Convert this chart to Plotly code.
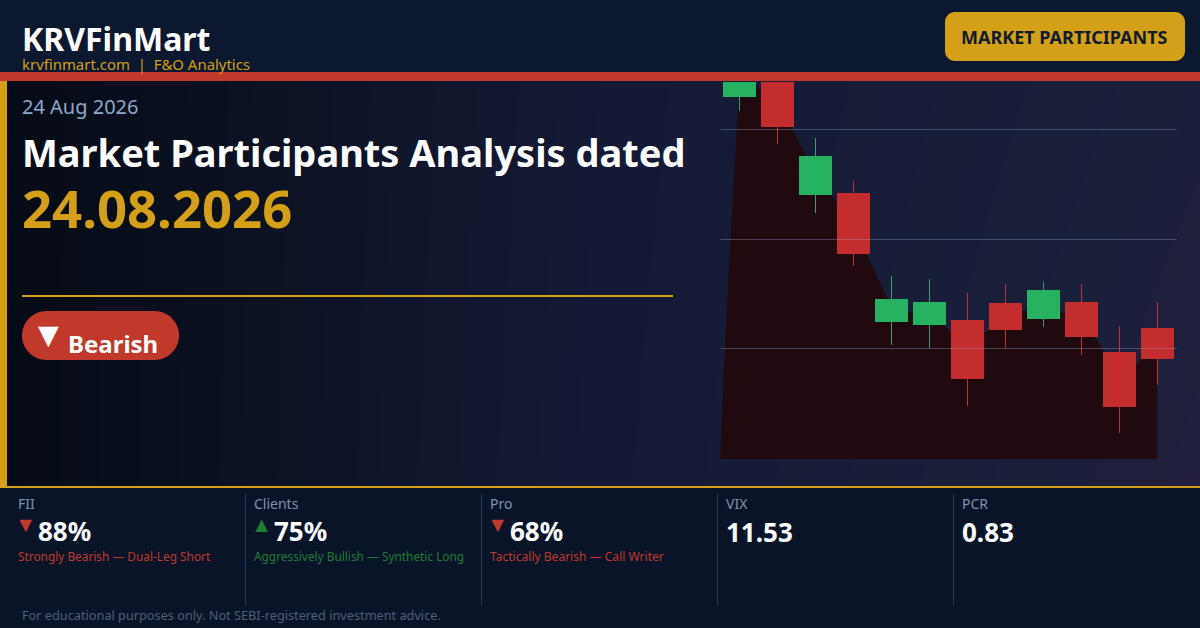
import plotly.graph_objects as go

W, H = 1200, 628

# Candles (no axis labels in the reference, values on a relative scale)
SESSIONS = list(range(12))
OPEN = [329.1, 342.7, 240.0, 241.8, 124.5, 121.8, 126.4, 141.8, 127.3, 142.7, 97.3, 119.1]
HIGH = [360.0, 355.0, 291.8, 252.7, 166.4, 163.6, 150.9, 159.1, 160.9, 159.1, 120.9, 142.7]
LOW = [316.4, 286.4, 223.6, 175.5, 103.6, 100.9, 48.2, 100.9, 120.0, 94.5, 23.6, 67.3]
CLOSE = [350.0, 301.8, 275.5, 186.4, 145.5, 142.7, 72.7, 117.3, 153.6, 110.9, 47.3, 90.9]
GRID_LEVELS = [299.5, 199.5, 100.45]

# Shaded area behind the candles, outline
AREA_X = [720, 720.4, 724, 728, 732, 737, 739, 743, 750, 756, 761, 775, 792, 805, 819, 833, 850, 868, 882, 887,
          898, 910, 930, 943, 950, 967, 984, 989, 1005, 1022, 1040, 1060, 1075, 1097, 1102, 1118, 1136, 1142, 1157.5]
AREA_Y = [0, 10, 83.6, 156.4, 226.4, 305.5, 329.1, 344.5, 348.2, 340, 333.6, 319.1, 300, 278.2, 258.2, 238.2, 211.8,
          183.6, 156.4, 146.4, 139.1, 133.6, 128.2, 123.6, 115.5, 108.2, 114.5, 117.3, 128.2, 134.5, 137.3, 134.5,
          126.4, 108.2, 100, 88.2, 85.5, 90.9, 103.6]

# Background wash
BG_X = [0, 600, 1200]
BG_Y = [0, 628]
BG_Z = [[0.0, 0.45, 0.82], [0.0, 0.48, 1.0]]

STATS = [
    ("FII", "▼", "88%", "Strongly Bearish — Dual-Leg Short", "#c0392b", 11.85),
    ("Clients", "▲", "75%", "Aggressively Bullish — Synthetic Long", "#1e7e34", 11.85),
    ("Pro", "▼", "68%", "Tactically Bearish — Call Writer", "#c0392b", 12.05),
    ("VIX", "", "11.53", "", "", 12),
    ("PCR", "", "0.83", "", "", 12),
]
STAT_X = [18, 254, 490, 726, 962]
SEP_X = [245, 481, 717, 953]

FONT = "Noto Sans"
GOLD = "#d4a017"
RED = "#c0392b"
GREEN_BODY = "#26b260"
RED_BODY = "#c32d2d"

fig = go.Figure()

fig.add_trace(go.Heatmap(
    x=BG_X, y=BG_Y, z=BG_Z, zsmooth="best", showscale=False, hoverinfo="skip",
    zmin=0, zmax=1,
    colorscale=[[0, "#060b16"], [0.47, "#141a35"], [0.82, "#1a1f3a"], [1, "#231f3e"]],
    xaxis="x", yaxis="y",
))
fig.add_trace(go.Scatter(
    x=AREA_X, y=AREA_Y, mode="lines", line=dict(width=0),
    fill="tozeroy", fillcolor="#200a10", hoverinfo="skip", showlegend=False,
    xaxis="x2", yaxis="y2",
))
# Wicks: the open/close pair is collapsed to the middle of the body, where the bodies hide it
MID = [(o + c) / 2 for o, c in zip(OPEN, CLOSE)]
STEP = [0.01 if c > o else -0.01 for o, c in zip(OPEN, CLOSE)]
fig.add_trace(go.Candlestick(
    x=SESSIONS, open=MID, close=[m + s for m, s in zip(MID, STEP)], high=HIGH, low=LOW, whiskerwidth=0,
    increasing=dict(line=dict(color="#3a9f6a", width=1), fillcolor=GREEN_BODY),
    decreasing=dict(line=dict(color="#b8333a", width=1), fillcolor=RED_BODY),
    showlegend=False, xaxis="x3", yaxis="y3",
))
# Bodies on top, with no outline
fig.add_trace(go.Candlestick(
    x=SESSIONS, open=OPEN, close=CLOSE,
    high=[max(o, c) for o, c in zip(OPEN, CLOSE)], low=[min(o, c) for o, c in zip(OPEN, CLOSE)],
    whiskerwidth=0,
    increasing=dict(line=dict(color=GREEN_BODY, width=0), fillcolor=GREEN_BODY),
    decreasing=dict(line=dict(color=RED_BODY, width=0), fillcolor=RED_BODY),
    showlegend=False, xaxis="x3", yaxis="y3",
))


def rr(x0, y0, x1, y1, r):
    fy = lambda v: 1 - v / H
    fx = lambda v: v / W
    k = r * 0.4477
    p = (f"M {fx(x0 + r)} {fy(y0)} L {fx(x1 - r)} {fy(y0)} "
         f"C {fx(x1 - k)} {fy(y0)} {fx(x1)} {fy(y0 + k)} {fx(x1)} {fy(y0 + r)} L {fx(x1)} {fy(y1 - r)} "
         f"C {fx(x1)} {fy(y1 - k)} {fx(x1 - k)} {fy(y1)} {fx(x1 - r)} {fy(y1)} L {fx(x0 + r)} {fy(y1)} "
         f"C {fx(x0 + k)} {fy(y1)} {fx(x0)} {fy(y1 - k)} {fx(x0)} {fy(y1 - r)} L {fx(x0)} {fy(y0 + r)} "
         f"C {fx(x0)} {fy(y0 + k)} {fx(x0 + k)} {fy(y0)} {fx(x0 + r)} {fy(y0)} Z")
    return dict(type="path", xref="paper", yref="paper", path=p, layer="above", line=dict(width=0))


def box(x0, y0, x1, y1, color):
    return dict(type="rect", xref="paper", yref="paper", x0=x0 / W, x1=x1 / W, y0=1 - y1 / H, y1=1 - y0 / H,
                fillcolor=color, line=dict(width=0), layer="above")


shapes = [dict(type="line", xref="x3 domain", yref="y3", x0=0, x1=1, y0=v, y1=v,
               line=dict(color="rgba(160,170,210,0.35)", width=1), layer="above") for v in GRID_LEVELS]
shapes += [
    box(0, 0, W, 72, "#0c1730"),
    box(0, 72, W, 81, RED),
    box(0, 81, 7, 486, GOLD),
    box(0, 488, W, H, "#0a1428"),
    box(0, 486, W, 488, GOLD),
    box(22, 295, 673, 297, GOLD),
]
b = rr(945, 12, 1185, 61, 10); b["fillcolor"] = GOLD; shapes.append(b)
p = rr(22, 311, 179, 360, 24.5); p["fillcolor"] = RED; shapes.append(p)
for sx in SEP_X:
    shapes.append(box(sx, 494, sx + 1, 605, "#2b3853"))

anns = []


def text(x, y, s, size, color, bold=False, family=FONT, anchor="left"):
    anns.append(dict(text=f"<b>{s}</b>" if bold else s, x=x / W, y=1 - y / H, xref="paper", yref="paper",
                     xanchor=anchor, yanchor="middle", showarrow=False, borderpad=0, borderwidth=0,
                     font=dict(family=family, size=size, color=color)))


text(22, 38.5, "KRVFinMart", 32, "#ffffff", True)
text(22, 64, "krvfinmart.com  |  F&amp;O Analytics", 14.93, GOLD)
text(1064.5, 37.5, "MARKET PARTICIPANTS", 18, "#0d1b2a", True, anchor="center")
text(22, 106.5, "24 Aug 2026", 20, "#8fa8cc")
text(22, 152, "Market Participants Analysis dated", 38, "#ffffff", True)
text(22, 207.5, "24.08.2026", 52.6, GOLD, True)
text(37.5, 334, "▼", 27, "#ffffff", family="DejaVu Sans")
text(68, 343, "Bearish", 24, "#ffffff", True)
for (label, arrow, val, sub, acol, ssize), x in zip(STATS, STAT_X):
    text(x, 503.5, label, 14, "#7f93ad")
    if arrow:
        text(x - 3.5, 524.5, arrow, 21.5, acol, family="Liberation Sans")
        text(x + 20, 531, val, 26, "#ffffff", True)
        text(x, 556, sub, ssize, acol)
    else:
        text(x, 532, val, 26, "#ffffff", True)
text(22, 615, "For educational purposes only. Not SEBI-registered investment advice.", 12.73, "#4f5f7c")

YR = [0, 342.7]
YD = [1 - 459 / H, 1 - 82 / H]
hidden = dict(visible=False, showgrid=False, zeroline=False, fixedrange=True)

fig.update_layout(
    width=W, height=H, margin=dict(l=0, r=0, t=0, b=0), paper_bgcolor="#0a0f1f", plot_bgcolor="rgba(0,0,0,0)",
    showlegend=False, boxmode="overlay", boxgap=0.13, boxgroupgap=0, shapes=shapes, annotations=anns,
    xaxis=dict(domain=[0, 1], range=[0, 1200], **hidden),
    yaxis=dict(domain=[0, 1], range=[628, 0], **hidden),
    xaxis2=dict(domain=[720 / W, 1157.5 / W], range=[720, 1157.5], anchor="y2", **hidden),
    yaxis2=dict(domain=YD, range=YR, anchor="x2", **hidden),
    xaxis3=dict(domain=[720.5 / W, 1176.5 / W], range=[-0.5, 11.5], anchor="y3", rangeslider=dict(visible=False), **hidden),
    yaxis3=dict(domain=YD, range=YR, anchor="x3", **hidden),
)

fig.write_html("out.html", config=dict(displayModeBar=False), post_script="document.body.style.margin='0';")
